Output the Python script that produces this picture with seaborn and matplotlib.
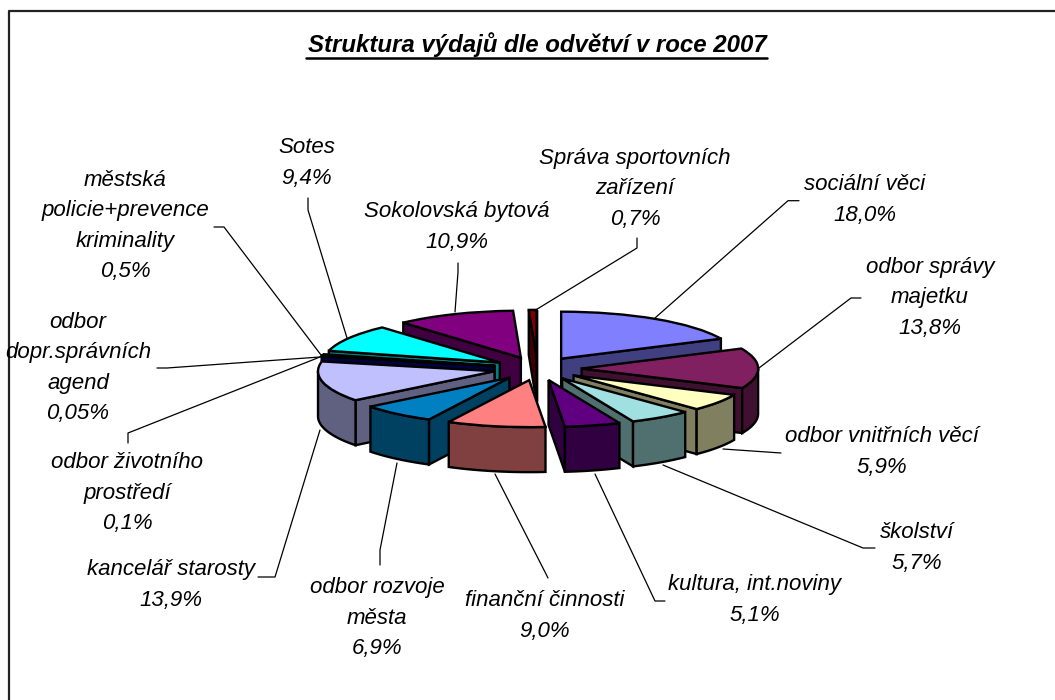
import numpy as np
import matplotlib
matplotlib.use("Agg")
import matplotlib.pyplot as plt
import seaborn as sns
from matplotlib.lines import Line2D
from matplotlib.patches import Polygon
from matplotlib.colors import to_rgb

# ---- data ----
categories = ["sociální věci", "odbor správy\nmajetku", "odbor vnitřních věcí", "školství",
              "kultura, int.noviny", "finanční činnosti", "odbor rozvoje\nměsta", "kancelář starosty",
              "odbor životního\nprostředí", "odbor\ndopr.správních\nagend",
              "městská\npolicie+prevence\nkriminality", "Sotes", "Sokolovská bytová",
              "Správa sportovních\nzařízení"]
shares = [18.0, 13.8, 5.9, 5.7, 5.1, 9.0, 6.9, 13.9, 0.1, 0.05, 0.5, 9.4, 10.9, 0.7]
share_labels = ["18,0%", "13,8%", "5,9%", "5,7%", "5,1%", "9,0%", "6,9%", "13,9%",
                "0,1%", "0,05%", "0,5%", "9,4%", "10,9%", "0,7%"]
title = "Struktura výdajů dle odvětví v roce 2007"

# ---- styles / layout ----
colors = ["#8080FF", "#802060", "#FFFFC0", "#A0E0E0", "#600080", "#FF8080", "#0080C0", "#C0C0FF",
          "#000080", "#000060", "#008080", "#00FFFF", "#800080", "#800000"]
W, H = 1055, 700
CX, CY, RX, RY, DEPTH = 537.5, 368.6, 176.5, 47.0, 45.0
label_centers = [(865, 200), (930, 298), (882, 452), (917, 548), (755, 600), (545, 616), (377, 618),
                 (171, 585), (127, 493), (78, 368), (125, 226), (307, 163), (457, 227), (635, 189)]
leaders = [
    [(799, 200.7), (788, 200.7), (655, 318)],
    [(861, 298), (851, 298), (759, 368)],
    [(781, 453), (723, 449)],
    [(875, 548), (863, 548), (663, 465)],
    [(665, 601), (655, 601), (595, 474)],
    [(548, 578), (546, 574), (495, 474)],
    [(380, 565), (380, 550), (397, 463)],
    [(258, 577), (275, 577), (320, 430)],
    [(128, 443), (128, 433), (320, 357)],
    [(157, 368), (167, 368), (320, 357)],
    [(214, 227), (224, 227), (321, 355)],
    [(308, 198), (308, 210), (347, 338)],
    [(458, 263), (458, 272), (455, 312)],
    [(637, 238), (637, 248), (534, 311)],
]

sns.set_theme(style="white")
plt.rcParams["font.family"] = ["Liberation Sans", "DejaVu Sans"]

fig = plt.figure(figsize=(W / 100, H / 100), dpi=100, facecolor="white")
ax = fig.add_axes([0, 0, 1, 1])

wedges, _ = ax.pie(shares, explode=[0.25] * len(shares), startangle=90, counterclock=False,
                   colors=colors, wedgeprops=dict(edgecolor="black", linewidth=1.7))
ax.set_aspect("auto")
ax.set_xlim(-CX / RX, (W - CX) / RX)
ax.set_ylim((CY - H) / RY, CY / RY)
ax.axis("off")

# extrude the pie's own wedges downwards, painting from back to front
depth = DEPTH / RY
order = sorted(range(len(wedges)), key=lambda i: -wedges[i].center[1])
for z, i in enumerate(order):
    w = wedges[i]
    cx, cy = w.center
    side = tuple(0.5 * c for c in to_rgb(colors[i]))
    zorder = 3 + 2 * z
    w.set_zorder(zorder + 1)

    def rim(t):
        t = np.radians(t)
        return cx + np.cos(t) * w.r, cy + np.sin(t) * w.r

    def add_face(pts):
        ax.add_patch(Polygon(pts, closed=True, facecolor=side, edgecolor="black",
                             linewidth=1.7, zorder=zorder))

    for th, normal in ((w.theta1, w.theta1 - 90), (w.theta2, w.theta2 + 90)):
        if np.sin(np.radians(normal)) < 0:
            px, py = rim(th)
            add_face([(cx, cy), (px, py), (px, py - depth), (cx, cy - depth)])
    th = np.linspace(w.theta1, w.theta2, 240)
    th = th[np.sin(np.radians(th)) <= 0]
    if len(th) > 1:
        xs, ys = rim(th)
        add_face(list(zip(xs, ys)) + list(zip(xs[::-1], ys[::-1] - depth)))


def fx(x):
    return x / W


def fy(y):
    return 1 - y / H


def line(points, lw=1.0, color="black"):
    fig.add_artist(Line2D([fx(p[0]) for p in points], [fy(p[1]) for p in points],
                          transform=fig.transFigure, color=color, linewidth=lw, zorder=50))


# frame (top and left only)
line([(8.5, H), (8.5, 11), (W, 11)], lw=1.6, color="#222222")

# title + underline
fig.text(fx(537), fy(45), title, ha="center", va="center", fontsize=17.3,
         fontweight="bold", fontstyle="italic", color="black")
line([(306, 58), (767, 58)], lw=1.8)

# labels and leader lines
for name, lab, (x, y), pts in zip(categories, share_labels, label_centers, leaders):
    fig.text(fx(x), fy(y), f"{name}\n{lab}", ha="center", va="center", fontsize=16,
             fontstyle="italic", color="black", linespacing=1.57, zorder=60)
    line(pts, lw=0.9)

fig.savefig("out.png", dpi=100)
